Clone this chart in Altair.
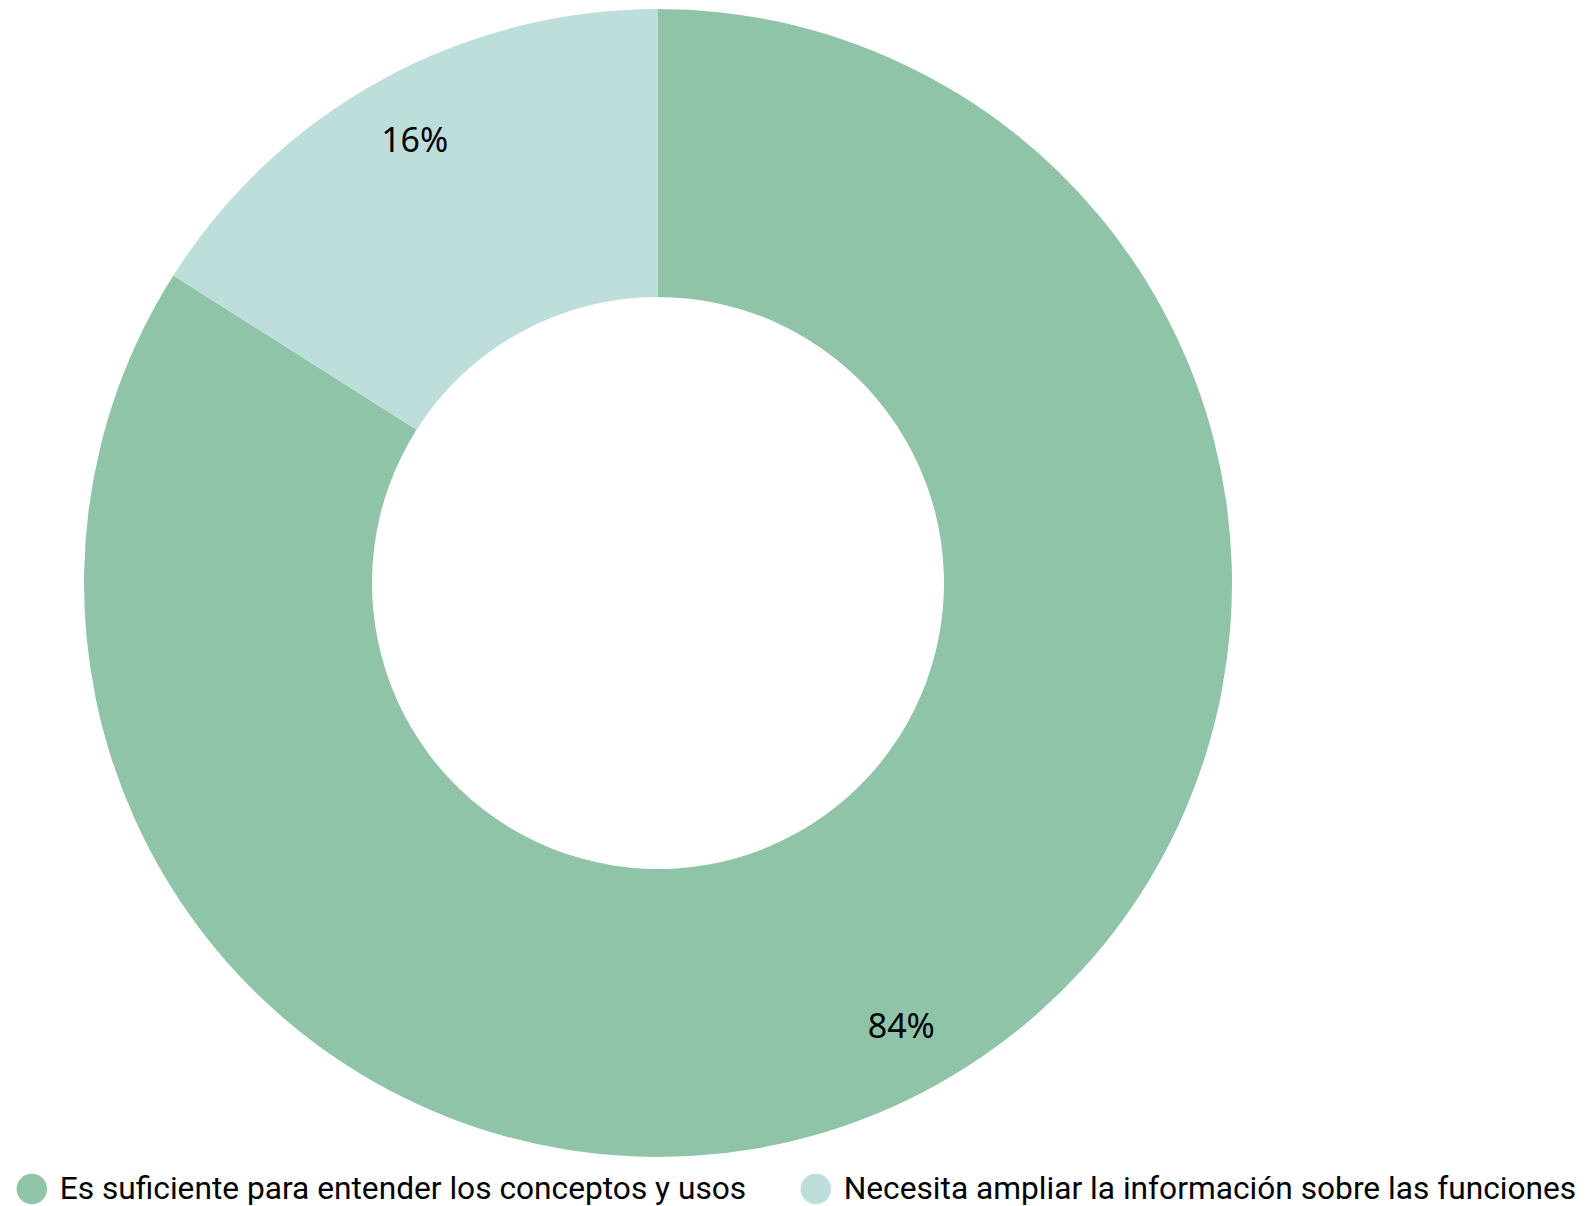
import altair as alt
import pandas as pd

categories = ["Es suficiente para entender los conceptos y usos",
              "Necesita ampliar la información sobre las funciones"]
values = [84, 16]
labels = ["84%", "16%"]
colors = ["#8FC4A8", "#BEDEDB"]

df = pd.DataFrame({"cat": categories, "val": values, "lab": labels, "order": [0, 1]})

cx, cy = 650, 575

base = alt.Chart(df).encode(
    theta=alt.Theta("val:Q", stack=True),
    order=alt.Order("order:Q"),
)

arc = base.mark_arc(outerRadius=574, innerRadius=286, stroke=None).encode(
    x=alt.value(cx), y=alt.value(cy),
    color=alt.Color("cat:N",
                    scale=alt.Scale(domain=categories, range=colors),
                    sort=categories,
                    legend=alt.Legend(title=None, orient="none", direction="horizontal",
                                      legendX=8, legendY=1165,
                                      symbolType="circle", symbolSize=930,
                                      symbolStrokeWidth=0, symbolOpacity=1,
                                      labelFont="Roboto", labelFontSize=31.7,
                                      labelColor="#000000", labelOffset=12,
                                      labelLimit=1000, columnPadding=53)),
)

text = base.mark_text(radius=505, font="Noto Sans", fontSize=34, color="#000000", dy=2).encode(
    x=alt.value(cx), y=alt.value(cy),
    text="lab:N",
)

chart = alt.layer(arc, text).properties(
    width=1570, height=1198, autosize=alt.AutoSizeParams(type="none"), padding=0
).configure_view(stroke=None)

chart.save("out.html", embed_options={"renderer": "svg", "actions": False})
